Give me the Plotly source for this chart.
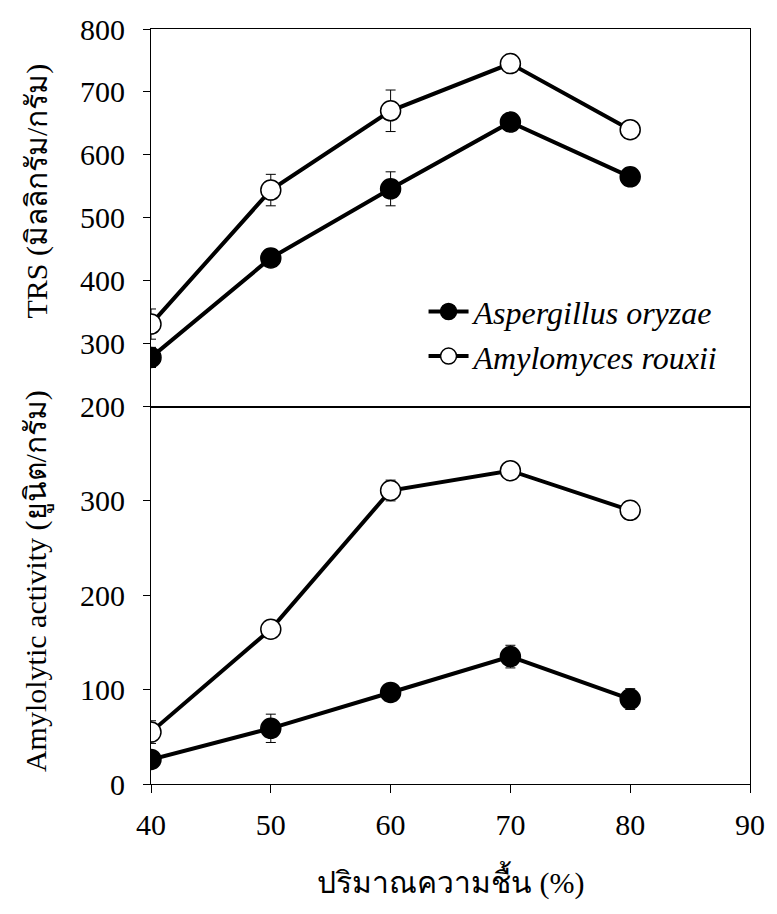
import plotly.graph_objects as go
from plotly.subplots import make_subplots

# Moisture content (%)
moisture = [40, 50, 60, 70, 80]

# Total reducing sugar (mg/g)
trs_aspergillus = [278, 436, 546, 652, 565]
trs_aspergillus_err = [16, 10, 27, 8, 14]
trs_amylomyces = [331, 544, 670, 745, 640]
trs_amylomyces_err = [24, 25, 33, 14, 6]

# Amylolytic activity (unit/g)
amy_aspergillus = [26, 59, 97, 135, 90]
amy_aspergillus_err = [8, 15, 6, 12, 11]
amy_amylomyces = [55, 164, 311, 332, 290]
amy_amylomyces_err = [12, 5, 11, 5, 4]

series_names = ["Aspergillus oryzae", "Amylomyces rouxii"]
x_ticks = [40, 50, 60, 70, 80, 90]

FONT = "Liberation Serif, Times New Roman, serif"

fig = make_subplots(rows=2, cols=1, shared_xaxes=True, vertical_spacing=0)


def add_series(row, y, err, filled, name, show):
    fig.add_trace(
        go.Scatter(
            x=moisture, y=y, mode="lines+markers", name=name,
            showlegend=show, legendgroup=name,
            line=dict(color="black", width=4),
            marker=dict(size=20, symbol="circle",
                        color="black" if filled else "white",
                        line=dict(color="black", width=1.5)),
            error_y=dict(type="data", array=err, visible=True,
                         color="black", thickness=1, width=5),
        ),
        row=row, col=1,
    )


add_series(1, trs_aspergillus, trs_aspergillus_err, True, series_names[0], True)
add_series(1, trs_amylomyces, trs_amylomyces_err, False, series_names[1], True)
add_series(2, amy_aspergillus, amy_aspergillus_err, True, series_names[0], False)
add_series(2, amy_amylomyces, amy_amylomyces_err, False, series_names[1], False)

axis_common = dict(showgrid=False, zeroline=False, showline=True,
                   linecolor="black", linewidth=1, mirror=True,
                   tickfont=dict(family=FONT, size=30, color="black"))

fig.update_xaxes(range=[40, 90], **axis_common)
fig.update_xaxes(row=1, col=1, ticks="", showticklabels=False)
fig.update_xaxes(row=2, col=1, ticks="outside", ticklen=8, tickcolor="black",
                 tickvals=x_ticks, ticklabelstandoff=6)

fig.update_yaxes(**axis_common)
fig.update_yaxes(row=1, col=1, range=[200, 800], tickvals=[200, 300, 400, 500, 600, 700, 800],
                 ticks="outside", ticklen=7, tickcolor="black", ticklabelstandoff=12)
fig.update_yaxes(row=2, col=1, range=[0, 400], tickvals=[0, 100, 200, 300],
                 ticks="outside", ticklen=7, tickcolor="black", ticklabelstandoff=12)

title_font = dict(family=FONT, size=30, color="black")
fig.add_annotation(text="TRS (มิลลิกรัม/กรัม)", xref="paper", yref="paper",
                   x=-0.19, y=0.785, textangle=-90, showarrow=False,
                   xanchor="center", yanchor="middle", font=title_font)
fig.add_annotation(text="Amylolytic activity (ยูนิต/กรัม)", xref="paper", yref="paper",
                   x=-0.19, y=0.269, textangle=-90, showarrow=False,
                   xanchor="center", yanchor="middle", font=title_font)
fig.add_annotation(text="ปริมาณความชื้น (%)", xref="paper", yref="paper",
                   x=0.5, y=-0.128, showarrow=False,
                   xanchor="center", yanchor="middle", font=title_font)

fig.update_layout(
    width=777, height=914,
    margin=dict(l=151, r=17, t=24, b=130),
    paper_bgcolor="white", plot_bgcolor="white",
    showlegend=True,
    legend=dict(x=0.455, y=0.662, xanchor="left", yanchor="top",
                bgcolor="rgba(0,0,0,0)",
                font=dict(family=FONT, size=32, color="black", style="italic"),
                itemwidth=40, tracegroupgap=0),
)

fig.write_html("out.html")
